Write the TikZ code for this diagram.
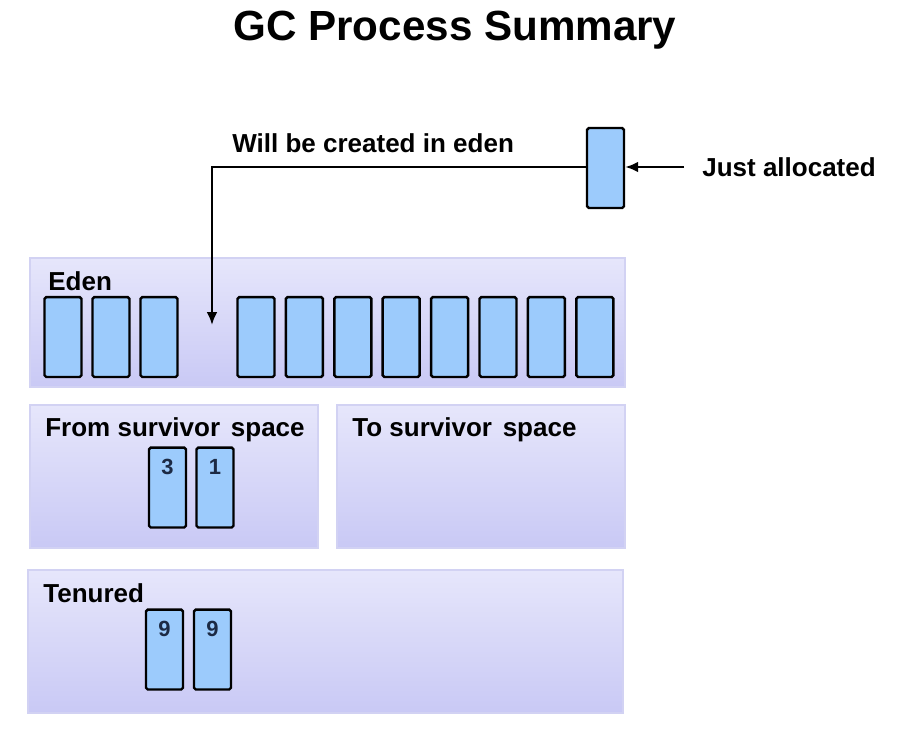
\documentclass[tikz,border=0pt]{standalone}
\usepackage{fontspec}
\setmainfont{Liberation Sans}
\usepackage{xcolor}
\usetikzlibrary{arrows.meta,positioning}

\definecolor{panelTop}{HTML}{E6E6FB}
\definecolor{panelBot}{HTML}{C9C9F5}
\definecolor{panelLine}{HTML}{D2D2F3}
\definecolor{objFill}{HTML}{9CCBFC}
\definecolor{numText}{HTML}{1C2A44}

\begin{document}
\begin{tikzpicture}[
    x=0.02cm, y=-0.02cm,
    font=\bfseries,
    panel/.style={
        draw=panelLine,
        line width=0.8pt,
        top color=panelTop,
        bottom color=panelBot,
        minimum width=11.9cm,
        inner sep=0pt
    },
    half/.style={
        panel,
        minimum width=5.76cm,
        minimum height=2.86cm
    },
    obj/.style={
        draw,
        line width=1.4pt,
        rounded corners=1pt,
        fill=objFill,
        minimum width=0.74cm,
        minimum height=1.6cm,
        inner sep=0pt
    },
    lbl/.style={
        font=\fontsize{14.8}{16}\selectfont\bfseries,
        inner sep=0pt,
        anchor=west
    },
    num/.style={
        font=\fontsize{12.5}{14}\selectfont\bfseries,
        text=numText,
        inner sep=0pt
    },
    conn/.style={-{Latex[length=2.6mm,width=2.2mm]}, line width=1.5pt}
]

\useasboundingbox[fill=white] (0,0) rectangle (898,728);

% --- Title ---
\node[font=\fontsize{24}{28}\selectfont\bfseries] (title) at (455,30) {GC Process Summary};

% --- Generations ---
\node[panel, minimum height=2.58cm] (eden) at (327.5,322.5) {};
\node[half] (from) at (174,476.5) {};
\node[half] (to) at (481,476.5) {};
\node[panel, minimum height=2.86cm] (tenured) at (325.5,641.5) {};

\node[lbl] (edenlbl) at (48,281) {Eden};
\node[lbl] (fromlbl) at (45,430) {From survivor\hspace{2pt} space};
\node[lbl] (tolbl) at (352,430) {To survivor\hspace{2pt} space};
\node[lbl] (tenlbl) at (43,593) {Tenured};

% --- Objects in eden ---
\foreach \i in {0,1,2} {
    \node[obj] (e\i) at ({63+48*\i},337) {};
}
\foreach \i in {3,...,10} {
    \node[obj] (e\i) at ({256+48.4*(\i-3)},337) {};
}

% --- Survivors ---
\node[obj] (s3) at (167.5,487.5) {};
\node[obj] (s1) at (215,487.5) {};
\node[num, below=2.5mm of s3.north] {3};
\node[num, below=2.5mm of s1.north] {1};

% --- Old objects ---
\node[obj] (t1) at (164.5,649.5) {};
\node[obj] (t2) at (212.5,649.5) {};
\node[num, below=2.5mm of t1.north] {9};
\node[num, below=2.5mm of t2.north] {9};

% --- New object ---
\node[obj] (newobj) at (605.5,168) {};
\node[lbl, inner xsep=0.36cm] (alloc) at (684,167) {Just allocated};
\node[lbl] (create) at (232,143) {Will be created in eden};
\coordinate (drop) at (212,325);

% --- Connections ---
\draw[conn] (alloc.west) -- (newobj.east |- alloc.west);
\draw[conn] (newobj.west |- alloc.west) -| (drop);

\end{tikzpicture}
\end{document}
